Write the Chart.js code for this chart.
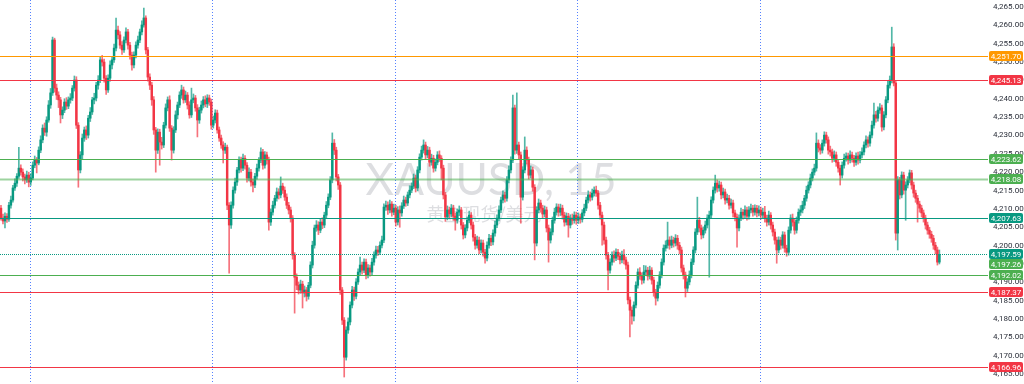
<!DOCTYPE html>
<html>
<head>
<meta charset="utf-8">
<title>XAUUSD, 15</title>
<script src="https://cdn.jsdelivr.net/npm/chart.js@4.4.1/dist/chart.umd.min.js"></script>
<style>
    html, body { margin: 0; padding: 0; background: #ffffff; }
    #wrap { width: 1024px; height: 384px; }
</style>
</head>
<body>
<div id="wrap"><canvas id="myChart" width="1024" height="384"></canvas></div>
<script>
// XAUUSD 15m candles (oldest first)
const opens = [
4210.2,4207.5,4206.7,4208.0,4207.2,4211.0,4212.4,4215.7,4217.0,4218.9,
4221.1,4220.0,4218.7,4217.9,4219.2,4217.3,4218.4,4221.9,4223.3,4222.5,
4226.0,4228.8,4232.0,4230.9,4234.2,4238.3,4241.6,4256.0,4242.9,4241.0,
4239.7,4235.6,4236.9,4239.1,4238.0,4239.7,4240.2,4242.9,4245.1,4232.8,
4220.6,4224.7,4229.3,4231.5,4230.1,4234.7,4236.4,4239.7,4240.2,4243.7,
4245.1,4250.6,4250.0,4245.6,4242.4,4245.6,4249.2,4250.6,4253.8,4258.7,
4257.4,4254.6,4253.3,4256.0,4258.2,4254.6,4251.9,4249.2,4251.9,4254.6,
4256.0,4258.2,4260.1,4262.0,4253.3,4245.9,4243.7,4239.7,4231.5,4226.0,
4230.9,4228.2,4227.4,4232.8,4237.5,4239.7,4232.0,4226.0,4231.5,4235.6,
4238.3,4241.0,4242.4,4239.7,4241.0,4238.3,4235.6,4239.7,4240.2,4237.5,
4234.2,4236.9,4238.3,4239.7,4238.6,4240.2,4239.1,4232.8,4234.2,4236.1,
4231.5,4229.3,4227.4,4226.0,4226.8,4211.0,4205.6,4211.0,4215.1,4217.3,
4220.6,4223.3,4221.1,4223.8,4221.9,4218.4,4220.0,4217.3,4216.5,4218.9,
4221.1,4223.3,4225.5,4221.9,4224.7,4223.3,4206.4,4209.1,4211.0,4212.9,
4214.6,4213.8,4216.2,4215.1,4213.2,4211.0,4209.7,4207.5,4197.4,4191.4,
4189.2,4187.9,4189.5,4187.1,4187.9,4186.2,4189.2,4194.7,4200.1,4204.8,
4205.6,4204.2,4206.4,4205.6,4208.3,4211.0,4213.2,4217.9,4227.9,4226.0,
4218.7,4216.5,4187.9,4179.7,4169.6,4177.0,4179.2,4183.8,4187.9,4186.2,
4190.1,4192.8,4194.7,4193.3,4195.5,4192.0,4193.9,4192.8,4195.5,4197.4,
4198.8,4198.2,4200.1,4201.5,4210.5,4211.0,4209.7,4211.3,4209.1,4210.2,
4206.4,4209.7,4208.9,4210.8,4212.4,4211.6,4213.8,4215.1,4216.2,4218.4,
4215.7,4220.6,4224.1,4226.0,4227.4,4224.7,4226.0,4222.7,4223.8,4221.1,
4222.7,4224.7,4223.8,4221.1,4213.8,4207.8,4209.7,4208.6,4210.2,4208.0,
4206.9,4209.1,4209.7,4205.6,4202.9,4204.8,4206.9,4208.3,4205.6,4202.3,
4200.1,4201.5,4198.8,4200.7,4198.2,4196.6,4200.1,4202.0,4201.0,4203.4,
4205.6,4207.5,4209.7,4212.4,4213.8,4212.9,4217.9,4220.6,4223.3,4237.5,
4226.0,4227.4,4224.7,4213.2,4220.6,4226.0,4223.3,4219.2,4220.6,4215.9,
4200.7,4209.7,4211.6,4210.2,4208.6,4209.7,4204.8,4201.5,4203.7,4206.9,
4209.1,4210.5,4209.1,4210.2,4208.3,4206.4,4208.0,4205.6,4207.5,4206.9,
4208.3,4206.9,4207.8,4207.2,4208.9,4210.2,4212.4,4213.8,4213.2,4214.3,
4215.1,4214.3,4211.0,4208.3,4205.6,4201.5,4197.4,4193.3,4195.5,4197.4,
4196.6,4198.2,4197.1,4196.1,4197.4,4196.1,4194.7,4185.2,4182.4,4180.8,
4183.8,4189.2,4192.8,4191.7,4190.6,4192.8,4193.3,4191.7,4193.3,4190.6,
4187.3,4185.7,4189.2,4192.0,4195.5,4199.3,4200.1,4201.5,4200.1,4201.5,
4200.7,4202.0,4200.1,4198.8,4193.9,4192.0,4188.4,4190.1,4192.0,4195.5,
4198.8,4203.7,4206.9,4204.8,4202.9,4204.2,4205.6,4207.5,4208.3,4212.4,
4215.1,4217.0,4215.7,4216.5,4213.8,4214.6,4212.4,4212.9,4211.0,4211.6,
4208.9,4207.8,4204.8,4207.5,4209.1,4208.3,4209.7,4208.0,4209.7,4210.2,
4209.1,4210.2,4208.9,4209.7,4208.3,4209.1,4207.5,4206.4,4208.3,4205.6,
4203.7,4201.5,4198.8,4201.5,4200.1,4202.9,4199.3,4198.2,4204.2,4207.5,
4206.4,4204.2,4206.9,4209.1,4209.7,4211.0,4212.9,4215.1,4216.5,4218.4,
4220.0,4221.1,4227.9,4226.6,4226.0,4227.9,4230.1,4228.8,4226.0,4225.5,
4223.8,4224.7,4222.7,4221.1,4219.2,4221.9,4223.8,4224.4,4223.3,4224.7,
4223.8,4222.7,4224.4,4223.3,4224.7,4225.5,4227.4,4228.8,4227.9,4230.1,
4232.8,4235.6,4234.7,4236.9,4237.5,4232.3,4235.6,4239.7,4243.7,4245.1,
4254.1,4244.3,4203.4,4217.9,4213.8,4219.2,4215.1,4216.5,4217.9,4219.8,
4216.5,4214.3,4212.9,4211.3,4210.2,4208.9,4207.5,4205.6,4204.2,4203.1,
4202.0,4200.1,4198.8,4195.5
];

const highs = [
4211.0,4208.6,4208.9,4208.7,4211.8,4213.5,4216.4,4218.2,4219.6,4226.8,
4222.0,4220.9,4219.5,4220.3,4220.0,4219.6,4222.8,4224.4,4224.0,4226.9,
4229.9,4232.9,4233.4,4235.1,4239.5,4242.8,4256.8,4256.5,4244.0,4241.9,
4240.4,4237.8,4240.0,4240.3,4240.5,4241.4,4243.6,4246.2,4246.0,4233.5,
4225.6,4230.4,4232.3,4232.6,4235.5,4237.6,4240.4,4241.5,4244.5,4246.3,
4251.5,4251.8,4250.8,4246.3,4246.5,4250.3,4251.4,4254.9,4262.0,4259.8,
4258.3,4255.6,4256.9,4259.3,4258.9,4255.4,4252.7,4252.8,4255.5,4257.1,
4259.0,4261.2,4264.7,4262.6,4254.0,4246.8,4244.5,4240.6,4232.2,4231.8,
4231.7,4229.5,4233.6,4238.6,4240.5,4240.8,4232.7,4232.4,4236.7,4239.1,
4241.9,4243.7,4243.2,4242.1,4241.7,4239.2,4242.9,4241.3,4240.9,4238.4,
4237.7,4239.4,4240.6,4240.8,4241.1,4241.0,4239.9,4235.3,4237.0,4236.9,
4232.3,4230.1,4228.3,4227.9,4227.4,4211.7,4211.9,4216.0,4218.4,4221.3,
4224.2,4224.1,4224.9,4224.5,4222.6,4221.2,4220.8,4218.1,4219.7,4222.2,
4224.0,4226.6,4226.2,4225.6,4225.5,4224.1,4210.0,4212.1,4213.7,4215.7,
4215.5,4218.7,4217.0,4216.0,4214.1,4211.8,4210.5,4208.2,4198.1,4192.3,
4190.1,4190.6,4190.3,4189.0,4188.6,4190.0,4195.6,4201.2,4205.6,4206.8,
4206.5,4207.3,4207.6,4209.1,4212.0,4214.1,4218.8,4230.7,4228.9,4226.8,
4219.4,4217.2,4188.6,4180.4,4177.9,4180.3,4184.7,4188.9,4188.7,4191.0,
4193.7,4196.9,4195.5,4196.4,4196.3,4194.8,4194.7,4196.5,4198.3,4199.9,
4199.8,4201.0,4202.6,4211.4,4212.1,4211.9,4212.4,4212.0,4211.3,4211.0,
4210.6,4210.8,4211.7,4213.5,4213.2,4214.6,4216.3,4217.1,4219.5,4219.2,
4221.5,4225.0,4227.1,4228.8,4228.2,4227.0,4226.8,4224.9,4224.6,4223.6,
4225.6,4225.8,4224.5,4221.9,4214.5,4210.8,4210.5,4211.2,4211.0,4208.9,
4210.0,4210.8,4210.4,4206.3,4205.7,4207.8,4209.4,4209.0,4206.4,4203.1,
4202.6,4202.3,4201.6,4201.5,4199.0,4201.0,4203.1,4202.8,4204.3,4206.7,
4208.4,4210.8,4213.2,4214.9,4214.6,4218.8,4221.7,4224.2,4241.0,4238.3,
4241.6,4228.2,4225.5,4221.5,4229.6,4226.9,4224.1,4221.7,4221.4,4216.6,
4210.6,4212.7,4212.4,4211.0,4210.8,4210.5,4205.6,4204.6,4207.8,4210.2,
4211.4,4211.3,4211.3,4211.0,4209.1,4208.9,4208.8,4208.4,4208.6,4209.2,
4209.1,4208.9,4208.6,4209.8,4211.3,4213.2,4214.9,4214.6,4215.4,4216.0,
4216.2,4215.0,4211.8,4209.1,4206.4,4202.3,4198.2,4196.4,4198.3,4198.6,
4199.1,4199.0,4198.0,4198.5,4198.9,4196.9,4195.5,4186.0,4183.3,4184.7,
4190.1,4193.7,4194.0,4192.6,4194.6,4194.5,4194.1,4194.4,4194.0,4191.4,
4188.1,4190.1,4192.9,4196.4,4200.2,4201.3,4206.4,4202.4,4202.6,4202.3,
4203.0,4202.8,4200.9,4199.6,4194.7,4192.8,4191.0,4193.1,4196.4,4199.7,
4204.6,4213.2,4207.7,4205.6,4205.1,4206.7,4208.4,4209.4,4213.3,4216.0,
4219.2,4217.9,4217.6,4217.3,4215.7,4215.4,4214.0,4213.7,4212.7,4212.4,
4209.7,4208.6,4208.4,4210.2,4209.9,4210.8,4210.5,4210.6,4211.3,4211.0,
4211.1,4211.0,4210.8,4210.5,4210.2,4210.7,4208.3,4209.4,4209.0,4206.4,
4204.5,4202.3,4202.4,4202.3,4203.8,4203.7,4200.1,4205.1,4208.4,4208.6,
4207.2,4207.8,4210.0,4210.9,4212.1,4213.7,4216.2,4217.4,4219.5,4220.9,
4222.2,4230.7,4228.8,4227.5,4228.8,4231.0,4230.9,4229.6,4227.1,4226.3,
4225.8,4225.5,4223.5,4221.9,4222.8,4224.9,4225.3,4225.2,4225.8,4225.5,
4224.6,4225.3,4225.5,4225.6,4226.6,4228.3,4229.9,4229.6,4231.0,4233.9,
4238.8,4236.6,4237.8,4238.7,4238.3,4236.5,4240.6,4244.8,4246.2,4259.5,
4255.0,4245.0,4218.8,4218.6,4220.1,4220.0,4217.4,4218.8,4220.6,4220.5,
4217.3,4215.1,4213.7,4212.1,4211.0,4209.7,4208.3,4206.4,4205.0,4203.9,
4202.8,4200.9,4199.6,4198.8
];

const lows = [
4206.9,4205.9,4204.8,4206.3,4206.6,4210.2,4211.8,4215.0,4216.1,4218.3,
4219.2,4217.6,4216.8,4217.2,4216.0,4216.4,4217.9,4221.2,4219.8,4222.0,
4225.3,4228.0,4230.0,4229.8,4233.6,4237.4,4240.9,4241.8,4239.8,4237.6,
4233.4,4234.6,4236.2,4237.1,4237.3,4238.8,4239.5,4242.1,4231.9,4215.9,
4219.8,4223.5,4228.4,4228.9,4229.3,4233.8,4235.7,4238.6,4239.4,4242.6,
4244.4,4248.9,4244.5,4241.2,4241.7,4244.8,4248.1,4249.9,4253.0,4256.3,
4253.7,4252.1,4252.6,4255.2,4253.5,4250.8,4247.8,4248.4,4251.1,4253.8,
4255.3,4257.4,4259.5,4252.2,4244.8,4242.5,4238.2,4230.3,4220.0,4225.1,
4221.9,4226.3,4226.7,4232.0,4236.7,4231.1,4223.3,4225.2,4230.8,4234.5,
4237.6,4240.1,4238.8,4239.0,4237.2,4234.7,4234.9,4238.9,4236.6,4229.6,
4233.3,4236.1,4237.5,4237.8,4237.6,4238.2,4231.7,4232.0,4233.4,4230.6,
4228.4,4226.5,4222.5,4225.1,4209.8,4192.5,4204.7,4210.2,4214.3,4216.4,
4219.8,4220.0,4220.4,4220.8,4217.3,4217.6,4216.2,4214.6,4215.8,4218.1,
4220.3,4222.6,4220.8,4221.1,4222.2,4204.2,4205.5,4208.3,4210.2,4212.1,
4212.7,4213.0,4214.2,4212.3,4210.1,4208.6,4206.4,4196.3,4181.6,4188.0,
4186.8,4187.0,4183.0,4186.0,4184.9,4185.4,4188.5,4193.9,4199.3,4203.9,
4203.0,4203.5,4204.6,4204.9,4207.6,4210.3,4212.5,4217.1,4224.8,4217.6,
4215.3,4186.7,4178.5,4164.2,4168.8,4176.1,4178.4,4183.0,4185.1,4185.5,
4189.4,4192.0,4192.2,4192.6,4190.9,4191.2,4191.7,4192.0,4194.7,4196.6,
4197.3,4197.5,4199.4,4200.8,4209.6,4208.5,4208.9,4208.0,4208.4,4205.3,
4205.6,4205.0,4208.0,4210.1,4210.7,4210.9,4213.0,4214.4,4215.5,4214.6,
4214.9,4219.8,4223.3,4225.2,4223.6,4223.9,4221.6,4221.9,4220.0,4220.3,
4222.0,4222.9,4217.9,4212.7,4206.6,4207.0,4207.5,4207.8,4206.9,4204.2,
4206.1,4208.2,4204.5,4201.8,4202.1,4204.0,4206.2,4204.5,4201.2,4199.0,
4199.3,4197.7,4198.0,4197.1,4195.2,4195.8,4199.3,4200.0,4200.2,4202.6,
4204.9,4206.7,4209.0,4211.6,4211.8,4212.1,4217.1,4219.8,4222.6,4224.9,
4225.1,4223.6,4206.1,4212.4,4219.8,4222.2,4218.1,4218.4,4214.8,4196.1,
4199.9,4208.9,4209.1,4207.5,4207.8,4203.7,4195.5,4200.7,4202.9,4206.1,
4208.3,4208.0,4208.2,4207.2,4205.3,4205.6,4202.3,4204.8,4205.8,4206.1,
4205.8,4206.0,4206.1,4206.4,4208.1,4209.5,4211.6,4212.1,4212.4,4213.5,
4213.4,4209.9,4207.2,4200.1,4200.4,4196.3,4187.9,4192.5,4194.7,4195.5,
4195.9,4196.2,4195.0,4195.3,4195.0,4193.6,4184.1,4175.1,4178.6,4179.5,
4183.0,4188.4,4190.8,4189.5,4189.8,4191.9,4190.6,4190.9,4189.5,4186.2,
4183.8,4184.9,4188.4,4191.2,4194.7,4198.5,4199.3,4199.0,4199.4,4199.6,
4199.9,4199.0,4197.7,4192.8,4190.9,4186.0,4187.5,4189.3,4191.2,4194.8,
4198.0,4203.0,4203.7,4201.8,4202.1,4203.4,4204.8,4191.4,4207.6,4211.6,
4214.3,4214.6,4214.8,4212.7,4213.0,4211.3,4211.6,4209.9,4210.2,4207.8,
4206.7,4199.6,4204.0,4206.8,4207.2,4207.6,4206.9,4207.2,4208.9,4208.0,
4208.3,4207.8,4208.1,4207.2,4207.5,4206.4,4205.3,4205.6,4204.5,4202.6,
4200.4,4195.2,4198.0,4199.0,4199.3,4198.2,4197.1,4197.4,4203.4,4205.3,
4203.1,4203.4,4206.1,4208.2,4208.9,4210.1,4212.1,4214.3,4215.7,4217.6,
4219.2,4220.3,4225.5,4224.9,4225.2,4227.1,4227.9,4224.9,4224.4,4222.7,
4222.9,4221.6,4220.0,4216.5,4218.4,4221.1,4223.0,4222.2,4222.5,4222.7,
4221.6,4221.9,4222.2,4222.5,4223.9,4224.7,4226.6,4226.8,4227.1,4229.3,
4232.0,4233.6,4233.9,4236.0,4231.2,4231.5,4234.8,4238.9,4242.9,4244.3,
4243.5,4201.5,4198.8,4212.7,4213.0,4214.0,4206.9,4215.7,4217.1,4215.4,
4213.2,4211.8,4206.4,4209.1,4207.8,4206.4,4204.5,4203.1,4202.0,4200.9,
4199.0,4197.7,4194.7,4195.0
];

const closes = [
4207.5,4206.7,4208.0,4207.2,4211.0,4212.4,4215.7,4217.0,4218.9,4221.1,
4220.0,4218.7,4217.9,4219.2,4217.3,4218.4,4221.9,4223.3,4222.5,4226.0,
4228.8,4232.0,4230.9,4234.2,4238.3,4241.6,4256.0,4242.9,4241.0,4239.7,
4235.6,4236.9,4239.1,4238.0,4239.7,4240.2,4242.9,4245.1,4232.8,4220.6,
4224.7,4229.3,4231.5,4230.1,4234.7,4236.4,4239.7,4240.2,4243.7,4245.1,
4250.6,4250.0,4245.6,4242.4,4245.6,4249.2,4250.6,4253.8,4258.7,4257.4,
4254.6,4253.3,4256.0,4258.2,4254.6,4251.9,4249.2,4251.9,4254.6,4256.0,
4258.2,4260.1,4262.0,4253.3,4245.9,4243.7,4239.7,4231.5,4226.0,4230.9,
4228.2,4227.4,4232.8,4237.5,4239.7,4232.0,4226.0,4231.5,4235.6,4238.3,
4241.0,4242.4,4239.7,4241.0,4238.3,4235.6,4239.7,4240.2,4237.5,4234.2,
4236.9,4238.3,4239.7,4238.6,4240.2,4239.1,4232.8,4234.2,4236.1,4231.5,
4229.3,4227.4,4226.0,4226.8,4211.0,4205.6,4211.0,4215.1,4217.3,4220.6,
4223.3,4221.1,4223.8,4221.9,4218.4,4220.0,4217.3,4216.5,4218.9,4221.1,
4223.3,4225.5,4221.9,4224.7,4223.3,4206.4,4209.1,4211.0,4212.9,4214.6,
4213.8,4216.2,4215.1,4213.2,4211.0,4209.7,4207.5,4197.4,4191.4,4189.2,
4187.9,4189.5,4187.1,4187.9,4186.2,4189.2,4194.7,4200.1,4204.8,4205.6,
4204.2,4206.4,4205.6,4208.3,4211.0,4213.2,4217.9,4227.9,4226.0,4218.7,
4216.5,4187.9,4179.7,4169.6,4177.0,4179.2,4183.8,4187.9,4186.2,4190.1,
4192.8,4194.7,4193.3,4195.5,4192.0,4193.9,4192.8,4195.5,4197.4,4198.8,
4198.2,4200.1,4201.5,4210.5,4211.0,4209.7,4211.3,4209.1,4210.2,4206.4,
4209.7,4208.9,4210.8,4212.4,4211.6,4213.8,4215.1,4216.2,4218.4,4215.7,
4220.6,4224.1,4226.0,4227.4,4224.7,4226.0,4222.7,4223.8,4221.1,4222.7,
4224.7,4223.8,4221.1,4213.8,4207.8,4209.7,4208.6,4210.2,4208.0,4206.9,
4209.1,4209.7,4205.6,4202.9,4204.8,4206.9,4208.3,4205.6,4202.3,4200.1,
4201.5,4198.8,4200.7,4198.2,4196.6,4200.1,4202.0,4201.0,4203.4,4205.6,
4207.5,4209.7,4212.4,4213.8,4212.9,4217.9,4220.6,4223.3,4237.5,4226.0,
4227.4,4224.7,4213.2,4220.6,4226.0,4223.3,4219.2,4220.6,4215.9,4200.7,
4209.7,4211.6,4210.2,4208.6,4209.7,4204.8,4201.5,4203.7,4206.9,4209.1,
4210.5,4209.1,4210.2,4208.3,4206.4,4208.0,4205.6,4207.5,4206.9,4208.3,
4206.9,4207.8,4207.2,4208.9,4210.2,4212.4,4213.8,4213.2,4214.3,4215.1,
4214.3,4211.0,4208.3,4205.6,4201.5,4197.4,4193.3,4195.5,4197.4,4196.6,
4198.2,4197.1,4196.1,4197.4,4196.1,4194.7,4185.2,4182.4,4180.8,4183.8,
4189.2,4192.8,4191.7,4190.6,4192.8,4193.3,4191.7,4193.3,4190.6,4187.3,
4185.7,4189.2,4192.0,4195.5,4199.3,4200.1,4201.5,4200.1,4201.5,4200.7,
4202.0,4200.1,4198.8,4193.9,4192.0,4188.4,4190.1,4192.0,4195.5,4198.8,
4203.7,4206.9,4204.8,4202.9,4204.2,4205.6,4207.5,4208.3,4212.4,4215.1,
4217.0,4215.7,4216.5,4213.8,4214.6,4212.4,4212.9,4211.0,4211.6,4208.9,
4207.8,4204.8,4207.5,4209.1,4208.3,4209.7,4208.0,4209.7,4210.2,4209.1,
4210.2,4208.9,4209.7,4208.3,4209.1,4207.5,4206.4,4208.3,4205.6,4203.7,
4201.5,4198.8,4201.5,4200.1,4202.9,4199.3,4198.2,4204.2,4207.5,4206.4,
4204.2,4206.9,4209.1,4209.7,4211.0,4212.9,4215.1,4216.5,4218.4,4220.0,
4221.1,4227.9,4226.6,4226.0,4227.9,4230.1,4228.8,4226.0,4225.5,4223.8,
4224.7,4222.7,4221.1,4219.2,4221.9,4223.8,4224.4,4223.3,4224.7,4223.8,
4222.7,4224.4,4223.3,4224.7,4225.5,4227.4,4228.8,4227.9,4230.1,4232.8,
4235.6,4234.7,4236.9,4237.5,4232.3,4235.6,4239.7,4243.7,4245.1,4254.1,
4244.3,4203.4,4217.9,4213.8,4219.2,4215.1,4216.5,4217.9,4219.8,4216.5,
4214.3,4212.9,4211.3,4210.2,4208.9,4207.5,4205.6,4204.2,4203.1,4202.0,
4200.1,4198.8,4195.5,4197.59
];

// time slots on the x axis (bars plus empty space on the right)
const slotCount = 498;
const barTimes = Array.from({ length: slotCount }, (_, i) => {
    const m = (i * 15) % 1440;
    return String(Math.floor(m / 60)).padStart(2, '0') + ':' + String(m % 60).padStart(2, '0');
});
const sessionStarts = [15, 107, 199, 291, 383];

// price axis
const priceMin = 4162.3;
const priceMax = 4266.9;
const priceTicks = [4165, 4170, 4175, 4180, 4185, 4190, 4195, 4200, 4205, 4210, 4215,
    4220, 4225, 4230, 4235, 4240, 4245, 4250, 4255, 4260, 4265];

// horizontal levels and their tag colours
const levelValues = [4251.70, 4245.13, 4223.62, 4218.08, 4207.63, 4197.59, 4197.26, 4192.02, 4187.37, 4166.96];
const levelColors = ['#ff9800', '#f23645', '#4caf50', '#4caf50', '#089981', '#089981', '#4caf50', '#4caf50', '#f23645', '#f23645'];

const symbolText = 'XAUUSD, 15';
const symbolDesc = '黄金现货/美元';

const upColor = '#089981';
const downColor = '#f23645';
const isUp = closes.map((c, i) => c >= opens[i]);

const fmt = v => v.toLocaleString('en-US', { minimumFractionDigits: 2, maximumFractionDigits: 2 });

// watermark, session separators, level lines and price tags
const overlay = {
    id: 'overlay',
    beforeDatasetsDraw(chart) {
        const { ctx, chartArea: a, scales: { x } } = chart;
        ctx.save();
        const cx = (a.left + a.right) / 2;
        ctx.textAlign = 'center';
        ctx.fillStyle = 'rgba(120, 123, 134, 0.25)';
        ctx.font = '44px Lato, "Noto Sans", sans-serif';
        ctx.textBaseline = 'alphabetic';
        ctx.fillText(symbolText, cx - 3, a.top + a.height * 0.508);
        ctx.font = '18px "Noto Sans CJK SC", sans-serif';
        ctx.textBaseline = 'middle';
        ctx.fillText(symbolDesc, cx - 10, a.top + a.height * 0.557);

        ctx.strokeStyle = 'rgba(41, 98, 255, 0.8)';
        ctx.lineWidth = 1;
        ctx.setLineDash([1, 2]);
        sessionStarts.forEach(i => {
            const px = Math.round(x.getPixelForValue(i)) - 0.5;
            ctx.beginPath();
            ctx.moveTo(px, a.top);
            ctx.lineTo(px, a.bottom);
            ctx.stroke();
        });
        ctx.restore();
    },
    afterDatasetsDraw(chart) {
        const { ctx, chartArea: a, scales: { y } } = chart;
        ctx.save();
        levelValues.forEach((v, i) => {
            if (i === 6) return;
            const py = Math.round(y.getPixelForValue(v)) + 0.5;
            ctx.beginPath();
            ctx.setLineDash(i === 5 ? [1, 1] : []);
            if (i === 3) {
                ctx.strokeStyle = 'rgba(76, 175, 80, 0.55)';
                ctx.lineWidth = 2;
            } else {
                ctx.strokeStyle = levelColors[i];
                ctx.lineWidth = 1;
            }
            ctx.moveTo(a.left, py);
            ctx.lineTo(a.right, py);
            ctx.stroke();
        });
        ctx.restore();
    },
    afterDraw(chart) {
        const { ctx, chartArea: a, scales: { y } } = chart;
        ctx.save();
        ctx.font = '8px Roboto, sans-serif';
        ctx.textAlign = 'center';
        ctx.textBaseline = 'middle';
        const h = 10;
        let lastY = -Infinity;
        levelValues.forEach((v, i) => {
            let cy = y.getPixelForValue(v);
            if (cy < lastY + h) cy = lastY + h;
            lastY = cy;
            const left = a.right + 1;
            const w = chart.width - left - 1;
            ctx.fillStyle = levelColors[i];
            ctx.beginPath();
            ctx.roundRect(left, Math.round(cy - h / 2), w, h, 2);
            ctx.fill();
            ctx.fillStyle = '#ffffff';
            ctx.fillText(fmt(v), left + w / 2, Math.round(cy) + 0.5);
        });
        ctx.restore();
    }
};

const ctx = document.getElementById('myChart').getContext('2d');
const myChart = new Chart(ctx, {
    type: 'bar',
    data: {
        labels: barTimes,
        datasets: [
            {
                label: 'Wick',
                data: lows.map((l, i) => [l, highs[i]]),
                backgroundColor: isUp.map(u => u ? 'rgba(8, 153, 129, 0.7)' : 'rgba(242, 54, 69, 0.7)'),
                barThickness: 1,
                grouped: false,
                order: 2
            },
            {
                label: 'Body',
                data: opens.map((o, i) => [o, closes[i]]),
                backgroundColor: isUp.map(u => u ? upColor : downColor),
                barThickness: 1.8,
                minBarLength: 1,
                grouped: false,
                order: 1
            }
        ]
    },
    options: {
        responsive: false,
        animation: false,
        devicePixelRatio: 1,
        layout: { padding: 0, autoPadding: false },
        scales: {
            x: {
                display: false
            },
            y: {
                position: 'right',
                min: priceMin,
                max: priceMax,
                afterBuildTicks: scale => {
                    scale.ticks = priceTicks.map(v => ({ value: v }));
                },
                afterFit: scale => {
                    scale.width = 36;
                    scale.paddingTop = 0;
                    scale.paddingBottom = 0;
                },
                grid: { display: false, drawTicks: false },
                border: { display: false },
                ticks: {
                    padding: 5,
                    color: '#2a2e39',
                    font: { family: 'Roboto, sans-serif', size: 8 },
                    callback: v => fmt(v)
                }
            }
        },
        plugins: {
            legend: { display: false },
            tooltip: { enabled: false }
        }
    },
    plugins: [overlay]
});
</script>
</body>
</html>
